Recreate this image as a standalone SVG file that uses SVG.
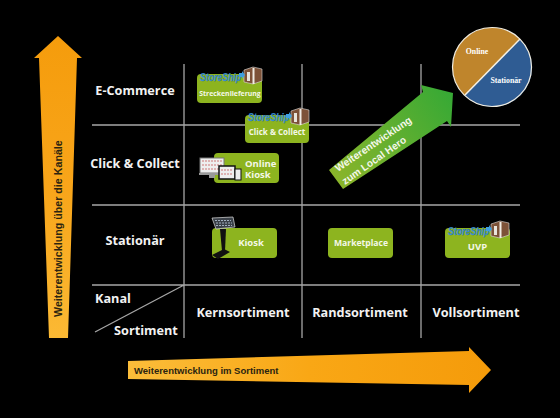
<svg xmlns="http://www.w3.org/2000/svg" width="560" height="418" viewBox="0 0 560 418">
<style>
.g{stroke:#a6a6a6;stroke-width:1.3;fill:none}
.r{font:700 12.700px "Open Sans",sans-serif;fill:#f2f2f2;text-anchor:middle}
.b{fill:#8db41f}
.t{font:700 9.500px "Open Sans",sans-serif;fill:#f4f8e8;text-anchor:middle}
.ss{font:italic 700 11px "Liberation Sans",sans-serif;fill:#3f97dc;stroke:#15508a;stroke-width:.25}
.ar{font:700 9.500px "Liberation Sans",sans-serif;fill:#2b2410}
.pie{font:700 7.800px "Liberation Serif",serif;fill:#fff;text-anchor:middle}
.w{font:700 10.200px "Liberation Sans",sans-serif;fill:#f4f8e8}
</style>
<defs>
<linearGradient id="ov" x1="0" y1="1" x2="0" y2="0"><stop offset="0" stop-color="#fbb934"/><stop offset=".5" stop-color="#f8a51a"/><stop offset="1" stop-color="#f59c0c"/></linearGradient>
<linearGradient id="oh" x1="0" y1="0" x2="1" y2="0"><stop offset="0" stop-color="#fbbd3a"/><stop offset=".5" stop-color="#f9a715"/><stop offset="1" stop-color="#f59b0a"/></linearGradient>
<linearGradient id="gr" gradientUnits="userSpaceOnUse" x1="332" y1="180" x2="452" y2="95"><stop offset="0" stop-color="#8cb52a"/><stop offset="1" stop-color="#37a935"/></linearGradient>
<g id="box">
<path d="M0 3 9 0 18 2 18 14 9 17 0 15Z" fill="#7d5238" stroke="#ddd" stroke-width=".6"/>
<path d="M3 5h3v9H3z" fill="#e8e4dc"/><path d="M8.500 1h2V17h-2z" fill="#f0ece4"/>
<path d="M-5 6h3V4l3 4-3 4v-2h-3z" fill="#3f9fe0"/>
</g>
</defs>
<rect width="560" height="418" fill="#000"/>
<g id="connectors">
<path class="g" d="M184 64V338M302 64V338M421 64V338M92 125H520M92 205H520M92 285H520M184 285 95 332"/>
</g>
<g id="arrow-kanal">
<path d="M58 36 82 58H77L68 338H49L39 58H34Z" fill="url(#ov)"/>
<text class="ar" transform="translate(62 317) rotate(-90)" style="font-size:10.700px">Weiterentwicklung über die Kanäle</text>
</g>
<g id="arrow-sortiment">
<path d="M128 361 469 351V347L491 370 469 393V385L128 379Z" fill="url(#oh)"/>
<text class="ar" x="134" y="374">Weiterentwicklung im Sortiment</text>
</g>
<g id="label-ecommerce"><text class="r" x="135" y="95">E-Commerce</text></g>
<g id="label-clickcollect"><text class="r" x="135" y="168">Click &amp; Collect</text></g>
<g id="label-stationaer"><text class="r" x="135" y="245">Stationär</text></g>
<g id="label-kanal"><text class="r" x="113" y="303">Kanal</text></g>
<g id="label-sortiment"><text class="r" x="146" y="335">Sortiment</text></g>
<g id="label-kern"><text class="r" x="243" y="317">Kernsortiment</text></g>
<g id="label-rand"><text class="r" x="360" y="317">Randsortiment</text></g>
<g id="label-voll"><text class="r" x="476" y="317">Vollsortiment</text></g>
<g id="node-streckenlieferung">
<rect class="b" x="197" y="74" width="65" height="29" rx="4"/>
<text class="ss" x="200" y="80.500" textLength="41" lengthAdjust="spacingAndGlyphs">StoreShip</text><use href="#box" x="244" y="67"/>
<text class="t" x="230" y="96" style="font-size:6.900px">Streckenlieferung</text>
</g>
<g id="node-clickcollect">
<rect class="b" x="245" y="115" width="64" height="28" rx="4"/>
<text class="ss" x="248" y="120.500" textLength="41" lengthAdjust="spacingAndGlyphs">StoreShip</text><use href="#box" x="291" y="108"/>
<text class="t" x="277" y="135" style="font-size:8px">Click &amp; Collect</text>
</g>
<g id="node-online-kiosk">
<rect class="b" x="214" y="153" width="65" height="30" rx="4"/>
<rect x="200" y="158" width="24" height="15" fill="#eee" stroke="#777"/>
<path d="M202 161h20M202 165h20M202 169h20" stroke="#c77" stroke-width="1.200" stroke-dasharray="2 1"/>
<path d="M199 173h26v2h-10v3h-6v-3h-10z" fill="#999"/>
<rect x="219" y="166" width="16" height="13" fill="#eee" stroke="#111" stroke-width="1.500"/>
<path d="M221 170h12M221 174h12" stroke="#c77" stroke-width="1.200" stroke-dasharray="2 1"/>
<rect x="235" y="169" width="6" height="11" fill="#eee" stroke="#111"/>
<text class="t" x="245" y="166.500" style="text-anchor:start">Online</text>
<text class="t" x="245" y="178" style="text-anchor:start">Kiosk</text>
</g>
<g id="node-kiosk">
<rect class="b" x="212" y="228" width="65" height="30" rx="4"/>
<path d="M212 218 233 217 235 227 216 229Z" fill="#3a4048" stroke="#ddd" stroke-width=".7"/>
<path d="M215 220.500h16M216 223h16M216 225.500h16" stroke="#bcd" stroke-width=".8" stroke-dasharray="2 1"/>
<path d="M220 229h6l-1 22h-3Z" fill="#111"/>
<path d="M212 255 224 249 230 252 218 259Z" fill="#111"/>
<text class="t" x="251" y="246">Kiosk</text>
</g>
<g id="node-marketplace">
<rect class="b" x="328" y="228" width="65" height="30" rx="4"/>
<text class="t" x="361" y="246" style="font-size:8.600px">Marketplace</text>
</g>
<g id="node-uvp">
<rect class="b" x="445" y="228" width="65" height="30" rx="4"/>
<text class="ss" x="448" y="234.500" textLength="41" lengthAdjust="spacingAndGlyphs">StoreShip</text><use href="#box" x="491" y="221"/>
<text class="t" x="477.500" y="249.500">UVP</text>
</g>
<g id="arrow-local-hero">
<path d="M329 170 423 92 421 85 453 93 451 127 447 121 343 189Z" fill="url(#gr)"/>
<text class="w" transform="translate(338 172) rotate(-34)">Weiterentwicklung</text>
<text class="w" transform="translate(345 185) rotate(-35)">zum Local Hero</text>
</g>
<g id="node-pie">
<circle cx="492" cy="67" r="39.500" fill="#bf852c"/>
<path d="M465 95 520 39A39.500 39.500 0 0 1 465 96Z" fill="#2f5c93"/>
<circle cx="492" cy="67" r="39.500" fill="none" stroke="#f0ece0" stroke-width="1.200"/>
<path d="M465 95 520 39" stroke="#f5f0e4" stroke-width="1.500"/>
<text class="pie" x="477" y="54">Online</text>
<text class="pie" x="506" y="83">Stationär</text>
</g>
</svg>
